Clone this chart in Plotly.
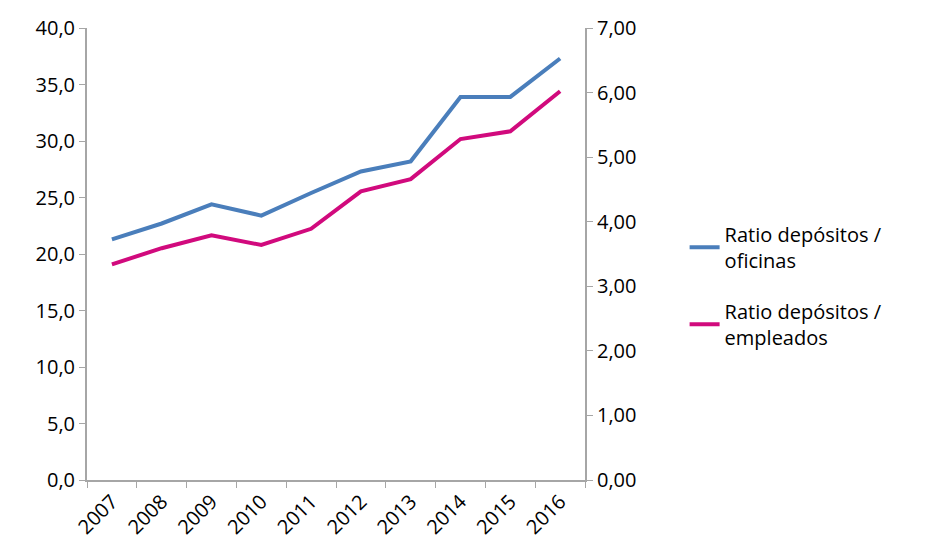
import plotly.graph_objects as go

years = ['2007', '2008', '2009', '2010', '2011', '2012', '2013', '2014', '2015', '2016']
ratio_oficinas = [21.3, 22.7, 24.4, 23.4, 25.4, 27.3, 28.2, 33.9, 33.9, 37.3]
ratio_empleados = [3.34, 3.59, 3.79, 3.64, 3.89, 4.47, 4.66, 5.28, 5.40, 6.02]

fig = go.Figure()
fig.add_trace(go.Scatter(x=years, y=ratio_oficinas, mode='lines', legendgroup='a',
                         name='Ratio depósitos /<br>oficinas',
                         line=dict(color='#4a7ebb', width=4)))
fig.add_trace(go.Scatter(x=years, y=ratio_empleados, mode='lines', yaxis='y2', legendgroup='b',
                         name='Ratio depósitos /<br>empleados',
                         line=dict(color='#d10a7d', width=4)))

axis_line = dict(showline=True, linecolor='#a6a6a6', linewidth=2, ticks='outside',
                 tickcolor='#a6a6a6', ticklen=6, showgrid=False, zeroline=False,
                 automargin=False)

fig.update_layout(
    width=929, height=552,
    separators=',.',
    font=dict(family='Open Sans', size=20, color='black'),
    plot_bgcolor='white', paper_bgcolor='white',
    margin=dict(l=79, r=352, t=20, b=80),
    xaxis=dict(type='category', tickangle=-45, range=[-0.5, 9.5], tickson='boundaries', **axis_line),
    yaxis=dict(range=[0, 40], dtick=5, tickformat='.1f', **axis_line),
    yaxis2=dict(range=[0, 7], dtick=1, tickformat='.2f', overlaying='y', side='right', **axis_line),
    legend=dict(x=1.2, y=0.43, xanchor='left', yanchor='middle', font=dict(size=20),
                tracegroupgap=22),
    showlegend=True,
)

fig.write_html("out.html")
